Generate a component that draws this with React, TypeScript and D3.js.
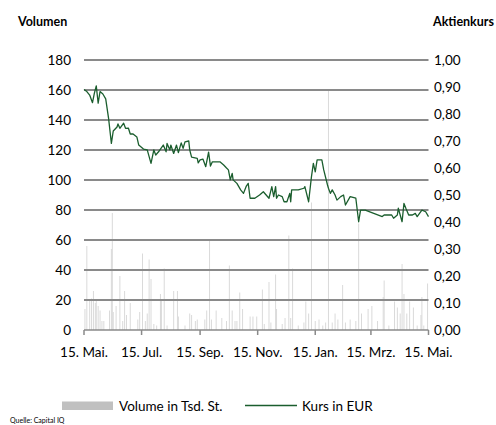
import React from "react";
import * as d3 from "d3";

const startDate = new Date(2014, 4, 15);
const endDate = new Date(2015, 4, 15);

const volumeTicks = [0, 20, 40, 60, 80, 100, 120, 140, 160, 180];
const priceTicks = ["0,00", "0,10", "0,20", "0,30", "0,40", "0,50", "0,60", "0,70", "0,80", "0,90", "1,00"];
const dateTickLabels = ["15. Mai.", "15. Jul.", "15. Sep.", "15. Nov.", "15. Jan.", "15. Mrz.", "15. Mai."];
const dateTicks = [
  new Date(2014, 4, 15), new Date(2014, 6, 15), new Date(2014, 8, 15), new Date(2014, 10, 15),
  new Date(2015, 0, 15), new Date(2015, 2, 15), new Date(2015, 4, 15),
];

// Days after 15 May 2014 and closing price in EUR
const priceDayOffsets = [
  0, 3, 6, 9, 11, 13, 15, 17, 20, 23, 26, 29, 31, 35, 36, 38, 42, 44, 47, 49, 52, 56, 58, 63, 67, 71, 74, 76, 79, 81,
  84, 87, 88, 91, 92, 95, 98, 100, 103, 105, 107, 111, 112, 114, 120, 121, 123, 126, 129, 132, 134, 136, 138, 144,
  148, 151, 153, 155, 157, 158, 162, 166, 169, 172, 174, 176, 181, 186, 190, 196, 199, 201, 203, 204, 206, 210, 212,
  215, 218, 219, 220, 227, 233, 234, 238, 241, 243, 245, 247, 252, 254, 258, 259, 261, 263, 266, 268, 272, 275, 277,
  282, 288, 291, 293, 298, 307, 316, 318, 326, 328, 332, 333, 337, 339, 341, 344, 348, 351, 353, 358, 362, 365,
];
const priceValues = [
  0.891, 0.883, 0.87, 0.842, 0.877, 0.904, 0.84, 0.883, 0.874, 0.856, 0.785, 0.691, 0.737, 0.752, 0.763, 0.747, 0.766,
  0.747, 0.748, 0.726, 0.726, 0.715, 0.685, 0.67, 0.667, 0.617, 0.667, 0.648, 0.66, 0.67, 0.685, 0.66, 0.691, 0.667,
  0.685, 0.654, 0.685, 0.657, 0.693, 0.673, 0.697, 0.7, 0.667, 0.64, 0.636, 0.619, 0.63, 0.633, 0.605, 0.659, 0.607,
  0.623, 0.623, 0.623, 0.611, 0.6, 0.593, 0.556, 0.58, 0.556, 0.543, 0.519, 0.506, 0.533, 0.543, 0.488, 0.488, 0.5,
  0.512, 0.488, 0.531, 0.494, 0.531, 0.488, 0.5, 0.494, 0.475, 0.475, 0.506, 0.475, 0.519, 0.519, 0.525, 0.531, 0.475,
  0.568, 0.617, 0.586, 0.63, 0.63, 0.593, 0.537, 0.525, 0.506, 0.519, 0.5, 0.481, 0.494, 0.5, 0.463, 0.494, 0.488,
  0.401, 0.444, 0.444, 0.432, 0.42, 0.426, 0.426, 0.414, 0.426, 0.451, 0.401, 0.469, 0.451, 0.426, 0.426, 0.432, 0.42,
  0.444, 0.438, 0.42,
];

// Days after 15 May 2014 and traded volume in thousand shares
const volumeDayOffsets = [
  1, 3, 6, 8, 10, 12, 13, 15, 17, 19, 21, 27, 29, 30, 31, 34, 38, 41, 43, 45, 49, 57, 59, 62, 65, 67, 69, 71, 74, 77,
  81, 82, 85, 88, 95, 99, 100, 107, 112, 114, 118, 120, 128, 130, 133, 135, 140, 146, 151, 154, 157, 160, 162, 165,
  168, 176, 179, 183, 189, 191, 196, 198, 203, 204, 210, 213, 217, 219, 221, 227, 233, 235, 238, 241, 245, 249, 253,
  256, 259, 263, 266, 269, 274, 277, 282, 288, 291, 294, 301, 305, 311, 317, 318, 323, 329, 332, 335, 337, 339, 342,
  345, 349, 353, 357, 358, 360, 364,
];
const volumeValues = [
  14, 56, 20, 21, 26, 18, 20, 16, 13, 6, 6, 13, 54, 78, 12, 16, 36, 6, 26, 10, 18, 7, 12, 51, 6, 11, 47, 34, 4, 3, 24,
  20, 41, 3, 26, 26, 9, 3, 11, 10, 6, 7, 7, 13, 60, 7, 13, 8, 6, 43, 13, 6, 6, 25, 14, 9, 9, 9, 27, 4, 32, 5, 37, 14,
  4, 8, 63, 8, 41, 3, 5, 19, 11, 85, 6, 7, 3, 5, 160, 5, 11, 7, 30, 5, 7, 6, 71, 11, 14, 16, 6, 22, 33, 3, 19, 15, 11,
  44, 24, 11, 19, 15, 3, 10, 22, 3, 31,
];

const W = 496;
const H = 425;
const left = 84;
const right = 428.5;
const top = 60;
const bottom = 330;
const font = "Lato, 'Open Sans', sans-serif";

function addDays(n: number) {
  return d3.timeDay.offset(startDate, n);
}

export default function App() {
  const x = d3.scaleTime().domain([startDate, endDate]).range([left, right]);
  const yVol = d3.scaleLinear().domain([0, 180]).range([bottom, top]);
  const yPrice = d3.scaleLinear().domain([0, 1]).range([bottom, top]);

  const pricePoints = priceDayOffsets.map((d, i) => ({ date: addDays(d), v: priceValues[i] }));
  const line = d3
    .line<{ date: Date; v: number }>()
    .x((p) => x(p.date))
    .y((p) => yPrice(p.v));

  const barW = 1;

  return (
    <svg
      width={W}
      height={H}
      style={{ position: "absolute", left: 0, top: 0, background: "#fff" }}
      fontFamily={font}
    >
      <text x={18} y={26} fontSize={12.5} fontWeight="bold" fill="#000">Volumen</text>
      <text x={494} y={26} fontSize={12.5} fontWeight="bold" fill="#000" textAnchor="end">Aktienkurs</text>

      {volumeDayOffsets.map((d, i) => {
        const cx = x(addDays(d));
        return (
          <rect
            key={"b" + i}
            x={cx - barW / 2}
            y={yVol(volumeValues[i])}
            width={barW}
            height={bottom - yVol(volumeValues[i])}
            fill="#dadada"
          />
        );
      })}

      {volumeTicks.filter((t) => t > 0).map((t) => (
        <line key={"g" + t} x1={left} x2={right} y1={yVol(t)} y2={yVol(t)} stroke="#8a8a8a" strokeWidth={2} />
      ))}
      <line x1={left} x2={right} y1={bottom} y2={bottom} stroke="#8a8a8a" strokeWidth={1.5} />
      {dateTicks.map((t, i) => (
        <line key={"t" + i} x1={x(t)} x2={x(t)} y1={bottom} y2={bottom + 5} stroke="#8a8a8a" strokeWidth={1.5} />
      ))}

      {volumeTicks.map((t) => (
        <text key={"l" + t} x={71} y={yVol(t)} dy="0.35em" fontSize={13.5} textAnchor="end" fill="#000">{t}</text>
      ))}
      {priceTicks.map((t, i) => (
        <text key={"r" + t} x={434} y={yPrice(i / 10)} dy="0.35em" fontSize={13.5} fill="#000">{t}</text>
      ))}
      {dateTicks.map((t, i) => (
        <text key={"x" + i} x={x(t)} y={357} fontSize={13.5} textAnchor="middle" fill="#000">{dateTickLabels[i]}</text>
      ))}

      <path d={line(pricePoints) || ""} fill="none" stroke="#1b5e2e" strokeWidth={1.3} strokeLinejoin="round" />

      <rect x={62} y={401.5} width={51} height={8.5} fill="#c0c0c0" />
      <text x={119} y={410.5} fontSize={13.5} fill="#000">Volume in Tsd. St.</text>
      <line x1={245} x2={297} y1={405.5} y2={405.5} stroke="#1b5e2e" strokeWidth={1.3} />
      <text x={302} y={410.5} fontSize={13.5} fill="#000">Kurs in EUR</text>

      <text x={10} y={423} fontSize={7} fill="#000">Quelle: Capital IQ</text>
    </svg>
  );
}
